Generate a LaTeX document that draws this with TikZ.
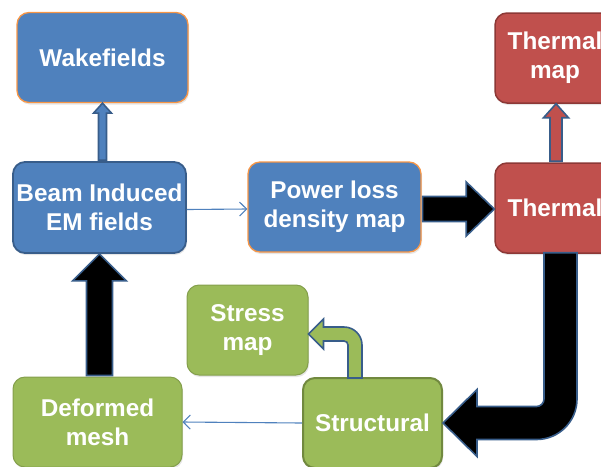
\documentclass[tikz,border=0pt]{standalone}
\usepackage{fontspec}
\setmainfont{Liberation Sans}
\usetikzlibrary{calc,arrows.meta,shadows}
\definecolor{bfill}{HTML}{4F81BD}
\definecolor{bdark}{HTML}{385D8A}
\definecolor{oline}{HTML}{F79646}
\definecolor{rfill}{HTML}{C0504D}
\definecolor{rdark}{HTML}{8C3836}
\definecolor{gfill}{HTML}{9BBB59}
\definecolor{gdark}{HTML}{71893F}
\tikzset{
  box/.style={rounded corners=12pt, minimum height=90pt, text=white,
    align=center, inner sep=1pt,
    font=\fontsize{24.3pt}{29pt}\selectfont\bfseries,
    drop shadow={opacity=0.2, shadow xshift=1pt, shadow yshift=-2pt}},
  bluebox/.style={box, fill=bfill, draw=oline, line width=1.3pt},
  bluedark/.style={box, fill=bfill, draw=bdark, line width=1.8pt},
  redbox/.style={box, fill=rfill, draw=rdark, line width=1.5pt},
  greenbox/.style={box, fill=gfill, draw=gfill!85!black, line width=1pt},
  greendark/.style={box, fill=gfill, draw=gdark, line width=2pt},
  blockarrow/.style={draw=bdark, line width=1.6pt, line join=miter},
  thin/.style={draw=bfill, line width=1.1pt, -{Straight Barb[length=7pt,width=14pt]}}
}
\begin{document}
\begin{tikzpicture}[x=1pt,y=-1pt]
\useasboundingbox (0,0) rectangle (601,466);
\clip (0,0) rectangle (601,466);

\node[bluebox, minimum width=171pt] (wake) at (102.5,57.5) {Wakefields};
\node[bluedark, minimum width=173pt, minimum height=91pt] (beam) at (99.5,207.5) {Beam Induced\\EM fields};
\node[bluebox, minimum width=173pt] (power) at (334.5,207) {Power loss\\density map};
\node[redbox, minimum width=120pt] (thermal) at (555,208) {Thermal};
\node[redbox, minimum width=120pt] (tmap) at (555,58) {Thermal\\map};
\node[greenbox, minimum width=121pt] (stress) at (247.5,330) {Stress\\map};
\node[greendark, minimum width=139pt] (struct) at (372.5,423) {Structural};
\node[greenbox, minimum width=169pt] (deformed) at (97.5,422) {Deformed\\mesh};

% beam -> wakefields (blue block arrow)
\coordinate (a1) at (wake.south |- beam.north);
\filldraw[blockarrow, fill=bfill]
  ($(a1)+(-4,-1)$) -- ($(wake.south)+(-4,10)$) -- ($(wake.south)+(-9,10)$) -- (wake.south)
  -- ($(wake.south)+(9,10)$) -- ($(wake.south)+(4,10)$) -- ($(a1)+(4,-1)$) -- cycle;

% deformed -> beam (black block arrow)
\coordinate (a2) at (beam.south |- deformed.north);
\filldraw[blockarrow, fill=black]
  ($(a2)+(-13,-1)$) -- ($(beam.south)+(-13,27)$) -- ($(beam.south)+(-27,27)$) -- (beam.south)
  -- ($(beam.south)+(27,27)$) -- ($(beam.south)+(13,27)$) -- ($(a2)+(13,-1)$) -- cycle;

% power -> thermal (black block arrow)
\coordinate (a3s) at ($(power.east)+(1,2)$);
\coordinate (a3t) at (thermal.west |- a3s);
\filldraw[blockarrow, fill=black]
  ($(a3s)+(0,-12.5)$) -- ($(a3t)+(-28,-12.5)$) -- ($(a3t)+(-28,-27)$) -- (a3t)
  -- ($(a3t)+(-28,27)$) -- ($(a3t)+(-28,12.5)$) -- ($(a3s)+(0,12.5)$) -- cycle;

% thermal -> thermal map (red block arrow)
\coordinate (a4) at ($(tmap.south)+(1,0)$);
\coordinate (a4s) at (a4 |- thermal.north);
\filldraw[blockarrow, fill=rfill]
  ($(a4s)+(-6,-1)$) -- ($(a4)+(-6,14)$) -- ($(a4)+(-12.5,14)$) -- (a4)
  -- ($(a4)+(12.5,14)$) -- ($(a4)+(6,14)$) -- ($(a4s)+(6,-1)$) -- cycle;

% thermal -> structural (J arrow)
\coordinate (J1) at ($(thermal.south)+(5.5,-1)$);
\coordinate (J2) at (J1 |- struct.east);
\coordinate (T) at (struct.east);
\filldraw[blockarrow, fill=black]
  ($(J1)+(-16.5,0)$) -- ($(J2)+(-16.5,-24)$)
  .. controls ($(J2)+(-16.5,-19.86)$) and ($(J2)+(-19.86,-16.5)$) .. ($(J2)+(-24,-16.5)$)
  -- ($(T)+(34,-16.5)$) -- ($(T)+(34,-33.5)$) -- (T) -- ($(T)+(34,33.5)$) -- ($(T)+(34,16.5)$)
  -- ($(J2)+(-24,16.5)$)
  .. controls ($(J2)+(-1.6,16.5)$) and ($(J2)+(16.5,-1.6)$) .. ($(J2)+(16.5,-24)$)
  -- ($(J1)+(16.5,0)$) -- cycle;

% structural -> stress (green bent arrow)
\coordinate (G1) at ($(struct.north)+(-17.5,1)$);
\coordinate (T2) at ($(stress.east)+(0,4)$);
\coordinate (G2) at (G1 |- T2);
\filldraw[blockarrow, fill=gfill]
  ($(G1)+(-7,0)$) -- ($(G2)+(-7,11)$)
  .. controls ($(G2)+(-7,8.8)$) and ($(G2)+(-8.8,7)$) .. ($(G2)+(-11,7)$)
  -- ($(T2)+(15,7)$) -- ($(T2)+(15,15)$) -- (T2) -- ($(T2)+(15,-15)$) -- ($(T2)+(15,-7)$)
  -- ($(G2)+(-11,-7)$)
  .. controls ($(G2)+(-1.06,-7)$) and ($(G2)+(7,1.06)$) .. ($(G2)+(7,11)$)
  -- ($(G1)+(7,0)$) -- cycle;

% thin connectors
\draw[thin] ($(beam.east)+(0,2)$) -- ($(power.west)+(0,2)$);
\draw[thin] (struct.west) -- (deformed.east);
\end{tikzpicture}
\end{document}
